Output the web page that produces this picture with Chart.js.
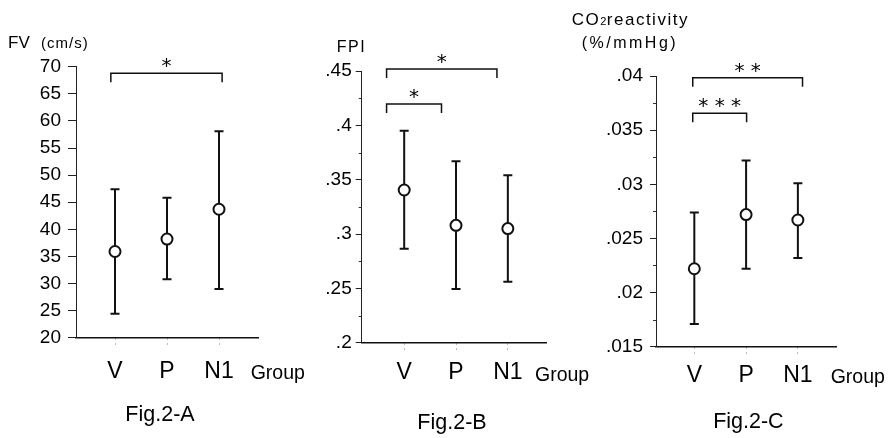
<!DOCTYPE html>
<html>
<head>
<meta charset="utf-8">
<script src="https://cdn.jsdelivr.net/npm/chart.js@4.4.1/dist/chart.umd.min.js"></script>
<style>
  html,body{margin:0;padding:0;background:#fff;}
  #wrap{position:relative;width:888px;height:438px;overflow:hidden;background:#fff;}
  #wrap canvas{position:absolute;left:0;top:0;}
  .t{position:absolute;line-height:1;white-space:nowrap;font-family:"Liberation Sans",Arial,sans-serif;color:#000;}
  .c{transform:translateX(-50%);}
</style>
</head>
<body>
<div id="wrap">
  <canvas id="cA" width="888" height="438"></canvas>
  <canvas id="cB" width="888" height="438"></canvas>
  <canvas id="cC" width="888" height="438"></canvas>

  <div class="t" style="left:8px;top:33.9px;font-size:17px;">FV</div>
  <div class="t" style="left:41px;top:35.3px;font-size:15px;letter-spacing:1px;">(cm/s)</div>
  <div class="t" style="left:336.7px;top:39.2px;font-size:16px;letter-spacing:1.5px;">FPI</div>
  <div class="t" style="left:571.7px;top:11.3px;font-size:17px;letter-spacing:1.5px;">CO<span style="font-size:11px;letter-spacing:0.5px;">2</span>reactivity</div>
  <div class="t" style="left:581.7px;top:34.5px;font-size:16px;letter-spacing:2.5px;">(%/mmHg)</div>

  <div class="t" style="left:250.7px;top:362.8px;font-size:19.5px;">Group</div>
  <div class="t" style="left:535px;top:364.5px;font-size:19.5px;">Group</div>
  <div class="t" style="left:830.7px;top:366.8px;font-size:19.5px;">Group</div>

  <div class="t c" style="left:160px;top:403.5px;font-size:21.5px;">Fig.2-A</div>
  <div class="t c" style="left:452px;top:411.8px;font-size:21.5px;">Fig.2-B</div>
  <div class="t c" style="left:748.4px;top:410.8px;font-size:21.5px;">Fig.2-C</div>
</div>
<script>
// ---- data ----
const groups = ['V', 'P', 'N1'];

const fvMean  = [35.9, 38.2, 43.7];
const fvUpper = [47.4, 45.8, 58.1];
const fvLower = [24.4, 30.8, 29.0];
const fvTicks = [20, 25, 30, 35, 40, 45, 50, 55, 60, 65, 70];
const fvTickLabels = ['20', '25', '30', '35', '40', '45', '50', '55', '60', '65', '70'];
const fvMinor = [];
const fvBrackets = [{ from: 0.92, to: 3.06, level: 68.8, stars: '*' }];

const fpiMean  = [0.3405, 0.308, 0.305];
const fpiUpper = [0.395, 0.367, 0.354];
const fpiLower = [0.2865, 0.2495, 0.256];
const fpiTicks = [0.2, 0.25, 0.3, 0.35, 0.4, 0.45];
const fpiTickLabels = ['.2', '.25', '.3', '.35', '.4', '.45'];
const fpiMinor = [0.225, 0.275, 0.325, 0.375, 0.425];
const fpiBrackets = [
  { from: 0.66, to: 2.79, level: 0.4518, stars: '*' },
  { from: 0.66, to: 1.72, level: 0.4196, stars: '*' }
];

const co2Mean  = [0.0222, 0.0272, 0.0267];
const co2Upper = [0.0274, 0.0322, 0.0301];
const co2Lower = [0.0171, 0.0222, 0.0232];
const co2Ticks = [0.015, 0.02, 0.025, 0.03, 0.035, 0.04];
const co2TickLabels = ['.015', '.02', '.025', '.03', '.035', '.04'];
const co2Minor = [0.0175, 0.0225, 0.0275, 0.0325, 0.0375];
const co2Brackets = [
  { from: 0.97, to: 3.09, level: 0.03984, stars: '* *' },
  { from: 0.97, to: 2.01, level: 0.03656, stars: '* * *' }
];

const FONT = '"Liberation Sans", Arial, sans-serif';
const STAR_FONT = '"DejaVu Sans", sans-serif';
const INK = '#111';

const annotPlugin = {
  id: 'annot',
  afterDatasetsDraw(chart, args, opts) {
    const ctx = chart.ctx;
    const xs = chart.scales.x, ys = chart.scales.y;
    ctx.save();
    // minor ticks on the y axis
    ctx.strokeStyle = '#333';
    ctx.lineWidth = 1;
    (opts.minor || []).forEach(v => {
      const py = Math.round(ys.getPixelForValue(v)) + 0.5;
      ctx.beginPath();
      ctx.moveTo(chart.chartArea.left - 3, py);
      ctx.lineTo(chart.chartArea.left, py);
      ctx.stroke();
    });
    // significance brackets
    ctx.strokeStyle = INK;
    ctx.fillStyle = '#000';
    ctx.lineWidth = 1.5;
    ctx.font = '20px ' + STAR_FONT;
    ctx.textAlign = 'center';
    ctx.textBaseline = 'alphabetic';
    (opts.brackets || []).forEach(b => {
      const x1 = xs.getPixelForValue(b.from);
      const x2 = xs.getPixelForValue(b.to);
      const py = ys.getPixelForValue(b.level);
      ctx.beginPath();
      ctx.moveTo(x1, py + 9);
      ctx.lineTo(x1, py);
      ctx.lineTo(x2, py);
      ctx.lineTo(x2, py + 9);
      ctx.stroke();
      ctx.fillText(b.stars, (x1 + x2) / 2, py - 1);
    });
    ctx.restore();
  }
};

function makeChart(id, c) {
  const datasets = [];
  datasets.push({
    data: c.mean.map((m, i) => ({ x: i + 1, y: m })),
    showLine: false,
    pointStyle: 'circle',
    pointRadius: 5.5,
    pointHoverRadius: 5.5,
    pointBorderWidth: 2,
    pointBackgroundColor: '#fff',
    pointBorderColor: INK
  });
  c.mean.forEach((m, i) => {
    datasets.push({
      data: [{ x: i + 1, y: c.lower[i] }, { x: i + 1, y: c.upper[i] }],
      showLine: true,
      borderColor: INK,
      borderWidth: 2,
      pointStyle: 'line',
      pointRadius: 4.5,
      pointHoverRadius: 4.5,
      pointBorderWidth: 2,
      pointBorderColor: INK,
      pointBackgroundColor: INK
    });
  });
  return new Chart(document.getElementById(id), {
    type: 'scatter',
    data: { datasets },
    plugins: [annotPlugin],
    options: {
      responsive: false,
      animation: false,
      events: [],
      layout: { padding: c.pad },
      plugins: {
        legend: { display: false },
        tooltip: { enabled: false },
        annot: { brackets: c.brackets, minor: c.minor }
      },
      scales: {
        x: {
          type: 'linear',
          min: c.xmin, max: c.xmax,
          afterBuildTicks: s => { s.ticks = groups.map((g, i) => ({ value: i + 1 })); },
          afterFit: s => { s.height = 60; },
          ticks: {
            callback: (v, i) => groups[i],
            font: { family: FONT, size: 23 },
            color: '#000',
            padding: c.xPad,
            maxRotation: 0,
            autoSkip: false
          },
          grid: {
            drawOnChartArea: false,
            drawTicks: true,
            tickLength: 10,
            tickColor: '#777',
            tickWidth: 1,
            tickBorderDash: [1, 4]
          },
          border: { color: INK, width: 1.5 }
        },
        y: {
          type: 'linear',
          min: c.ticks[0], max: c.ticks[c.ticks.length - 1],
          afterBuildTicks: s => { s.ticks = c.ticks.map(v => ({ value: v })); },
          afterFit: s => { s.width = 60; },
          ticks: {
            callback: (v, i) => c.tickLabels[i],
            font: { family: FONT, size: 19 },
            color: '#000',
            padding: c.yPad,
            autoSkip: false
          },
          grid: {
            drawOnChartArea: false,
            drawTicks: true,
            tickLength: c.yTick,
            tickColor: '#222',
            tickWidth: 1
          },
          border: { color: '#222', width: 1 }
        }
      }
    }
  });
}

makeChart('cA', {
  mean: fvMean, upper: fvUpper, lower: fvLower,
  ticks: fvTicks, tickLabels: fvTickLabels, minor: fvMinor, brackets: fvBrackets,
  xmin: 0.25, xmax: 3.75,
  pad: { left: 16, top: 66.7, right: 630, bottom: 40.3 },
  xPad: 10, yPad: 7, yTick: 8
});
makeChart('cB', {
  mean: fpiMean, upper: fpiUpper, lower: fpiLower,
  ticks: fpiTicks, tickLabels: fpiTickLabels, minor: fpiMinor, brackets: fpiBrackets,
  xmin: 0.18, xmax: 3.75,
  pad: { left: 301.7, top: 71, right: 341.3, bottom: 35.3 },
  xPad: 6.5, yPad: 4, yTick: 6
});
makeChart('cC', {
  mean: co2Mean, upper: co2Upper, lower: co2Lower,
  ticks: co2Ticks, tickLabels: co2TickLabels, minor: co2Minor, brackets: co2Brackets,
  xmin: 0.26, xmax: 3.75,
  pad: { left: 596, top: 76, right: 51.3, bottom: 31.3 },
  xPad: 5, yPad: 7, yTick: 6
});
</script>
</body>
</html>
